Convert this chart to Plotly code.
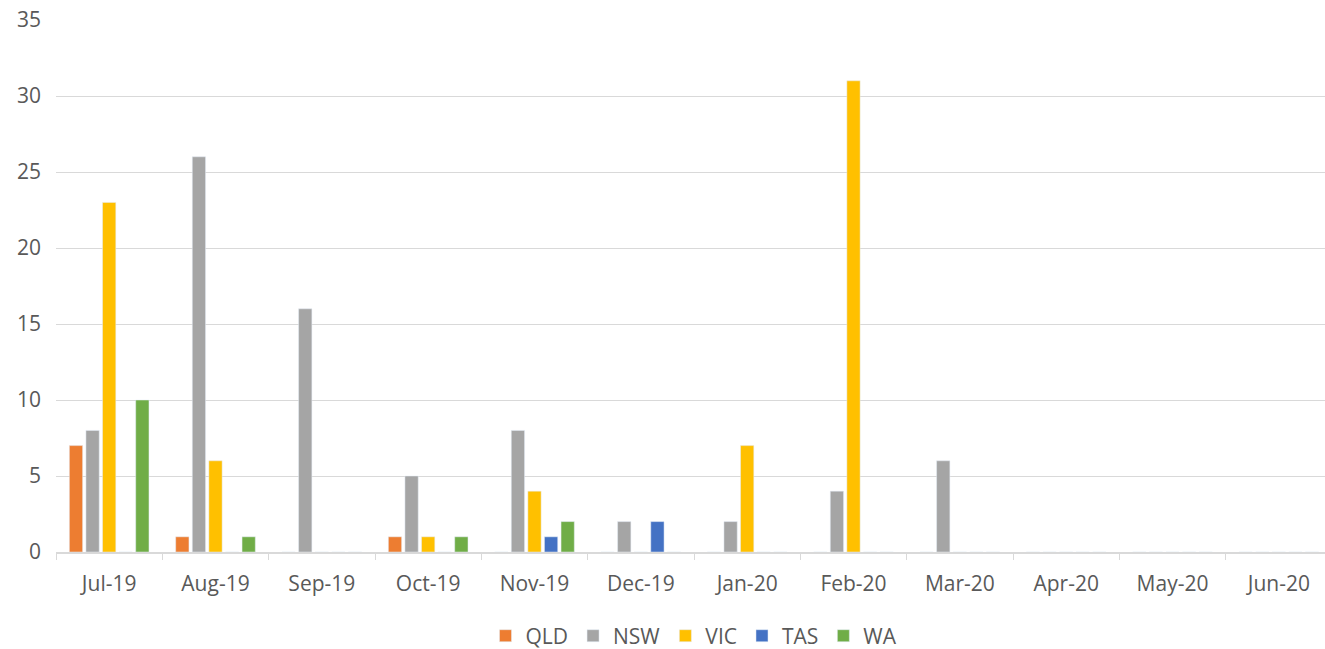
import plotly.graph_objects as go

months = ["Jul-19", "Aug-19", "Sep-19", "Oct-19", "Nov-19", "Dec-19",
          "Jan-20", "Feb-20", "Mar-20", "Apr-20", "May-20", "Jun-20"]
qld = [7, 1, 0, 1, 0, 0, 0, 0, 0, 0, 0, 0]
nsw = [8, 26, 16, 5, 8, 2, 2, 4, 6, 0, 0, 0]
vic = [23, 6, 0, 1, 4, 0, 7, 31, 0, 0, 0, 0]
tas = [0, 0, 0, 0, 1, 2, 0, 0, 0, 0, 0, 0]
wa = [10, 1, 0, 1, 2, 0, 0, 0, 0, 0, 0, 0]

series = [("QLD", qld, "#ED7D31"), ("NSW", nsw, "#A5A5A5"), ("VIC", vic, "#FFC000"),
          ("TAS", tas, "#4472C4"), ("WA", wa, "#70AD47")]

fig = go.Figure()
for name, vals, col in series:
    fig.add_trace(go.Bar(x=months, y=vals, name=name, marker_color=col))

font_fam = "'Open Sans', sans-serif"
fs = 21
fig.update_layout(
    width=1332, height=670,
    barmode="group", bargap=0.22, bargroupgap=0.2,
    plot_bgcolor="white", paper_bgcolor="white",
    margin=dict(l=56, r=0, t=20, b=118),
    font=dict(family=font_fam, size=fs, color="#595959"),
    legend=dict(orientation="h", x=0.5, xanchor="center", y=-0.158, yanchor="middle",
                font=dict(size=fs, color="#595959"), itemwidth=30, tracegroupgap=0),
    xaxis=dict(type="category", showgrid=False, showline=True, linecolor="#D9D9D9",
               linewidth=1.5, ticks="outside", tickson="boundaries", ticklen=6,
               tickcolor="#D9D9D9", tickfont=dict(size=fs, color="#595959"),
               ticklabelstandoff=12, automargin=False),
    yaxis=dict(range=[0, 35], dtick=5, showgrid=True, gridcolor="#D9D9D9", gridwidth=1.3,
               zeroline=False, showline=False, ticks="", ticklabelstandoff=14,
               tickfont=dict(size=fs, color="#595959"), automargin=False),
)
fig.write_html("out.html", config={"displayModeBar": False},
               post_script="document.body.style.margin='0';document.body.style.overflow='hidden';")
